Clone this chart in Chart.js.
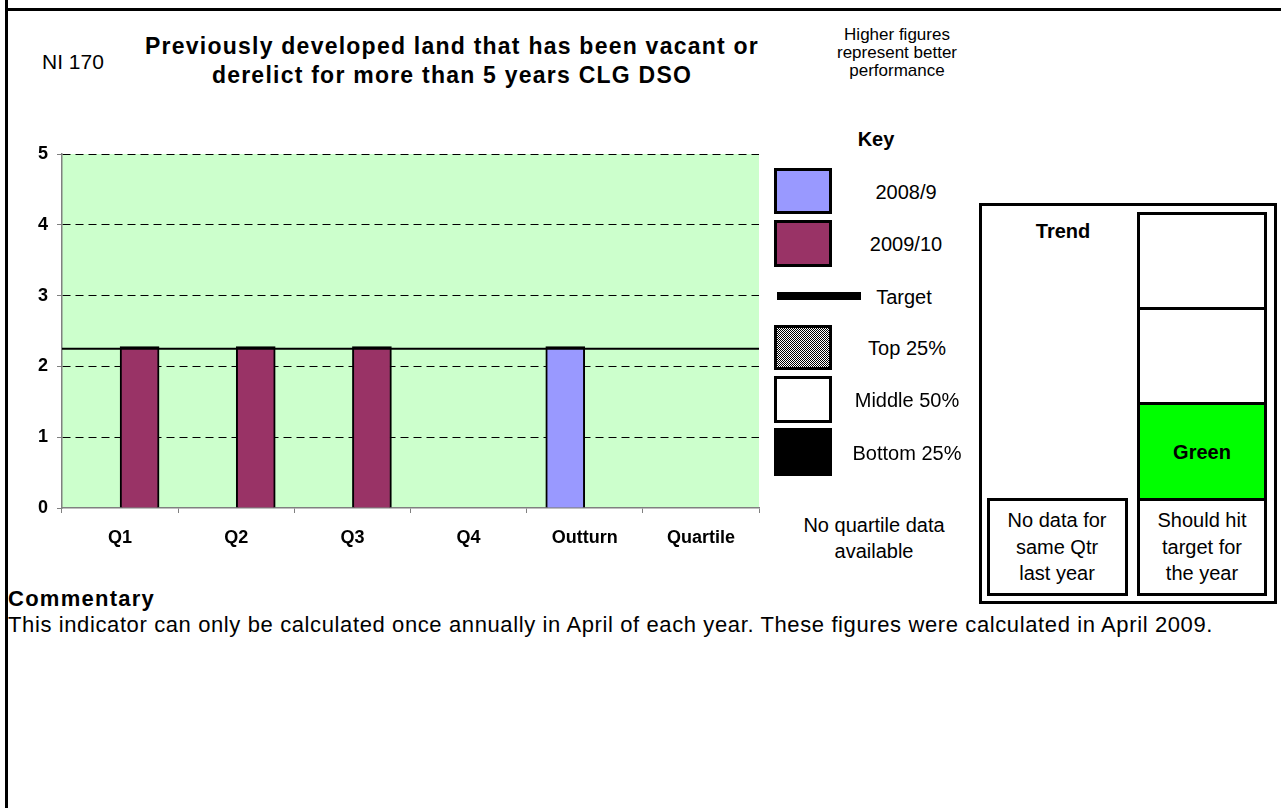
<!DOCTYPE html>
<html>
<head>
<meta charset="utf-8">
<script src="https://cdn.jsdelivr.net/npm/chart.js@4.4.0/dist/chart.umd.min.js"></script>
<style>
  html, body { margin: 0; padding: 0; background: #fff; }
  body { width: 1281px; height: 808px; position: relative; overflow: hidden;
         font-family: "Liberation Sans", Arial, sans-serif; color: #000; }
  .t { position: absolute; white-space: nowrap; line-height: 1; }
  .box { position: absolute; box-sizing: border-box; }
  #chartWrap { position: absolute; left: 0; top: 130px; width: 775px; height: 430px; }
</style>
</head>
<body>
<div class="box" style="left:5px;top:0;width:3px;height:808px;background:#000"></div>
<div class="box" style="left:5px;top:8px;width:1276px;height:3px;background:#000"></div>

<div id="chartWrap"><canvas id="kpiCanvas"></canvas></div>

<!-- key swatches -->
<div class="box" style="left:774px;top:168px;width:58px;height:46px;background:#9999FF;border:3px solid #000"></div>
<div class="box" style="left:774px;top:220px;width:58px;height:47px;background:#993366;border:3px solid #000"></div>
<div class="box" style="left:777px;top:292px;width:84px;height:8px;background:#000"></div>
<div class="box" style="left:774px;top:325px;width:58px;height:45px;border:3px solid #000;
     background-image:repeating-conic-gradient(#000 0 25%, #fff 0 50%);background-size:2px 2px"></div>
<div class="box" style="left:774px;top:376px;width:58px;height:47px;background:#fff;border:3px solid #000"></div>
<div class="box" style="left:774px;top:428px;width:58px;height:48px;background:#000"></div>

<!-- trend panel -->
<div class="box" style="left:979px;top:203px;width:298px;height:401px;border:3px solid #000"></div>
<div class="box" style="left:1137px;top:212px;width:130px;height:98px;border:3px solid #000"></div>
<div class="box" style="left:1137px;top:307px;width:130px;height:98px;border:3px solid #000"></div>
<div class="box" style="left:1137px;top:402px;width:130px;height:99px;border:3px solid #000;background:#00FF00"></div>
<div class="box" style="left:1137px;top:498px;width:130px;height:98px;border:3px solid #000"></div>
<div class="box" style="left:987px;top:498px;width:141px;height:98px;border:3px solid #000"></div>

<script>
(function(){
  'use strict';

  // ---- Datos ----
  const categories  = ['Q1', 'Q2', 'Q3', 'Q4', 'Outturn', 'Quartile'];
  const values2008  = [null, null, null, null, 2.28, null];   // 2008/9
  const values2009  = [2.28, 2.28, 2.28, null, null, null];   // 2009/10
  const targetValue = 2.25;
  const yTicks      = [0, 1, 2, 3, 4, 5];

  // ---- Textos ----
  // [texto, x, yCentro, tamaño, negrita, centrado]
  const texts = [
    ['NI 170', 42, 61, 21, false, false],
    ['Higher figures', 897, 34, 17, false, true],
    ['represent better', 897, 52, 17, false, true],
    ['performance', 897, 70, 17, false, true],
    ['Key', 876, 139, 20, true, true],
    ['2008/9', 906, 192, 20, false, true],
    ['2009/10', 906, 244, 20, false, true],
    ['Target', 904, 297, 20, false, true],
    ['Top 25%', 907, 348, 20, false, true],
    ['Middle 50%', 907, 400, 20, false, true],
    ['Bottom 25%', 907, 453, 20, false, true],
    ['No quartile data', 874, 525, 20, false, true],
    ['available', 874, 551, 20, false, true],
    ['Trend', 1063, 231, 20, true, true],
    ['Green', 1202, 452, 20, true, true],
    ['No data for', 1057, 520, 20, false, true],
    ['same Qtr', 1057, 547, 20, false, true],
    ['last year', 1057, 573, 20, false, true],
    ['Should hit', 1202, 520, 20, false, true],
    ['target for', 1202, 547, 20, false, true],
    ['the year', 1202, 573, 20, false, true]
  ];
  const titleLines = ['Previously developed land that has been vacant or',
                      'derelict for more than 5 years CLG DSO'];
  const comment = 'This indicator can only be calculated once annually in April of each year. These figures were calculated in April 2009.';

  const put = (txt, x, cy, size, bold, center) => {
    const el = document.createElement('div');
    el.className = 't';
    el.textContent = txt;
    el.style.fontSize = size + 'px';
    if (bold) el.style.fontWeight = 'bold';
    el.style.left = x + 'px';
    el.style.top = (cy - 0.49 * size) + 'px';
    if (center) el.style.transform = 'translateX(-50%)';
    document.body.appendChild(el);
    return el;
  };
  // ajusta el espaciado para ocupar un ancho dado
  const fit = (el, target) => {
    const w = el.getBoundingClientRect().width;
    const ls = (target - w) / el.textContent.length;
    el.style.letterSpacing = ls + 'px';
    return ls;
  };

  texts.forEach(t => put(...t));
  const t1 = put(titleLines[0], 452, 46, 23, true, true);
  const t2 = put(titleLines[1], 452, 75, 23, true, true);
  const ls = fit(t1, 614);
  t2.style.letterSpacing = ls + 'px';
  fit(put('Commentary', 8, 599, 22, true, false), 147);
  fit(put(comment, 8, 625, 22, false, false), 1205);

  // ---- Chart ----
  const plotBg = {
    id: 'plotBg',
    beforeDraw(chart) {
      const { ctx, chartArea: a } = chart;
      ctx.save();
      ctx.fillStyle = '#CCFFCC';
      ctx.fillRect(a.left, a.top, a.right - a.left, a.bottom - a.top);
      ctx.restore();
    }
  };

  const boldFont = { family: '"Liberation Sans", Arial, sans-serif', size: 18, weight: 'bold' };

  new Chart(document.getElementById('kpiCanvas'), {
    type: 'bar',
    data: {
      labels: categories,
      datasets: [
        {
          type: 'line',
          label: 'Target',
          xAxisID: 'xt',
          data: [{ x: 0, y: targetValue }, { x: categories.length, y: targetValue }],
          borderColor: '#000',
          borderWidth: 2,
          pointRadius: 0,
          order: 0
        },
        {
          label: '2008/9',
          xAxisID: 'x',
          data: values2008,
          backgroundColor: '#9999FF',
          borderColor: '#000',
          borderWidth: 2,
          barThickness: 39,
          order: 1
        },
        {
          label: '2009/10',
          xAxisID: 'x',
          data: values2009,
          backgroundColor: '#993366',
          borderColor: '#000',
          borderWidth: 2,
          barThickness: 39,
          order: 1
        }
      ]
    },
    options: {
      responsive: true,
      maintainAspectRatio: false,
      animation: false,
      layout: { padding: { top: 24, right: 16, left: 0, bottom: 0 } },
      plugins: { legend: { display: false }, tooltip: { enabled: false } },
      scales: {
        x: {
          type: 'category',
          grid: { offset: true, drawOnChartArea: false, drawTicks: true, tickLength: 5, tickColor: '#808080' },
          border: { color: '#808080', width: 1.5 },
          ticks: { color: '#000', font: boldFont, padding: 14, maxRotation: 0 },
          afterFit: s => { s.height = 52; }
        },
        xt: { type: 'linear', display: false, offset: false, min: 0, max: categories.length },
        y: {
          min: yTicks[0],
          max: yTicks[yTicks.length - 1],
          afterBuildTicks: s => { s.ticks = yTicks.map(v => ({ value: v })); },
          grid: {
            color: c => (c.tick && c.tick.value === 0) ? 'rgba(0,0,0,0)' : '#000',
            lineWidth: 1,
            tickLength: 5,
            tickColor: '#808080'
          },
          border: { color: '#808080', width: 1.5, dash: [8, 5] },
          ticks: { color: '#000', font: boldFont, padding: 9 },
          afterFit: s => { s.width = 62; }
        }
      }
    },
    plugins: [plotBg]
  });
})();
</script>
</body>
</html>
